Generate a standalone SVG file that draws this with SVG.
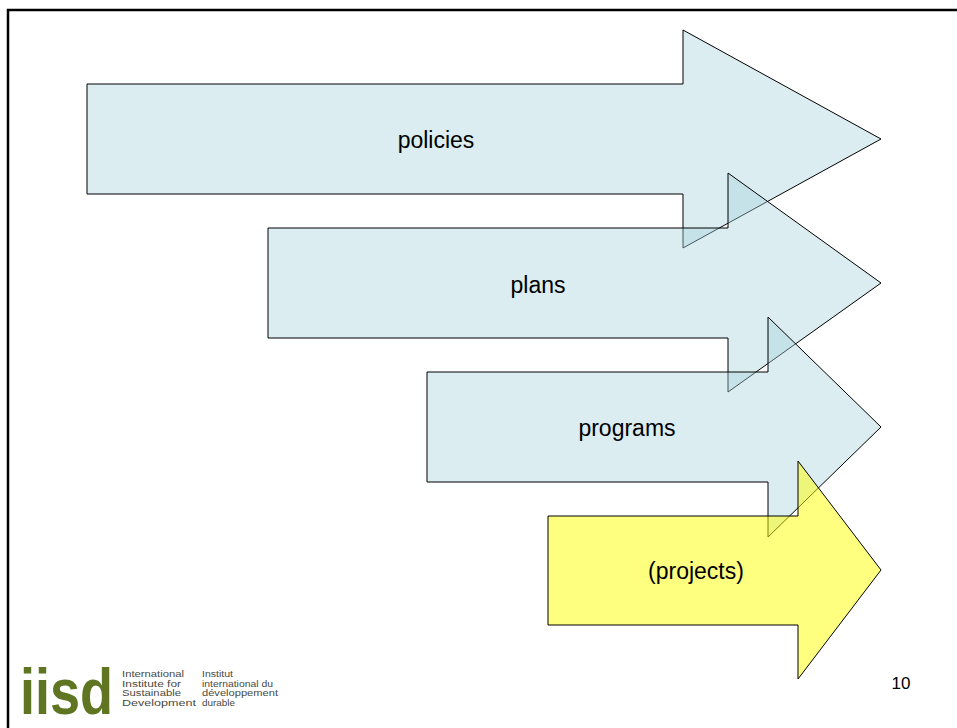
<svg xmlns="http://www.w3.org/2000/svg" width="957" height="728" viewBox="0 0 957 728">
<style>
.arr{stroke:#000;stroke-width:1;stroke-linejoin:miter}
.blue{fill:#A6D2DC;fill-opacity:0.4}
.yel{fill:#FFFF00;fill-opacity:0.5}
.lbl{font-family:"Liberation Sans",Arial,sans-serif;font-size:23px;fill:#000;text-anchor:middle}
.logo{font-family:"Liberation Sans",Arial,sans-serif;font-size:8.4px;fill:#4a4a40}
</style>
<rect width="957" height="728" fill="#fff"/>
<path d="M8,728 V10 H957" fill="none" stroke="#000" stroke-width="2.5"/>
<g id="connectors"/>
<g id="policies">
<polygon class="arr blue" points="87,84 683,84 683,30 881,139 683,248 683,194 87,194"/>
<text class="lbl" x="436" y="148">policies</text>
</g>
<g id="plans">
<polygon class="arr blue" points="268,228 728,228 728,173 881,283 728,392 728,338 268,338"/>
<text class="lbl" x="538" y="293">plans</text>
</g>
<g id="programs">
<polygon class="arr blue" points="427,372 768,372 768,317 881,427 768,537 768,482 427,482"/>
<text class="lbl" x="627" y="436">programs</text>
</g>
<g id="projects">
<polygon class="arr yel" points="548,516 798,516 798,461 881,570 798,679 798,625 548,625"/>
<text class="lbl" x="696" y="579">(projects)</text>
</g>
<g id="page-number">
<text x="901" y="689" font-family="Liberation Sans,Arial,sans-serif" font-size="17" text-anchor="middle" fill="#000">10</text>
</g>
<g id="logo">
<text transform="translate(20,714) scale(0.845,1)" x="0" y="0" font-family="Liberation Sans,Arial,sans-serif" font-weight="bold" font-size="64" fill="#5f7522">iisd</text>
<text class="logo" x="122" y="677" textLength="62" lengthAdjust="spacingAndGlyphs">International</text>
<text class="logo" x="122" y="686.5" textLength="59" lengthAdjust="spacingAndGlyphs">Institute for</text>
<text class="logo" x="122" y="696" textLength="59" lengthAdjust="spacingAndGlyphs">Sustainable</text>
<text class="logo" x="122" y="705.5" textLength="74" lengthAdjust="spacingAndGlyphs">Development</text>
<text class="logo" x="202" y="677" textLength="31" lengthAdjust="spacingAndGlyphs">Institut</text>
<text class="logo" x="202" y="686.5" textLength="71" lengthAdjust="spacingAndGlyphs">international du</text>
<text class="logo" x="202" y="696" textLength="76" lengthAdjust="spacingAndGlyphs">développement</text>
<text class="logo" x="202" y="705.5" textLength="33" lengthAdjust="spacingAndGlyphs">durable</text>
</g>
</svg>
